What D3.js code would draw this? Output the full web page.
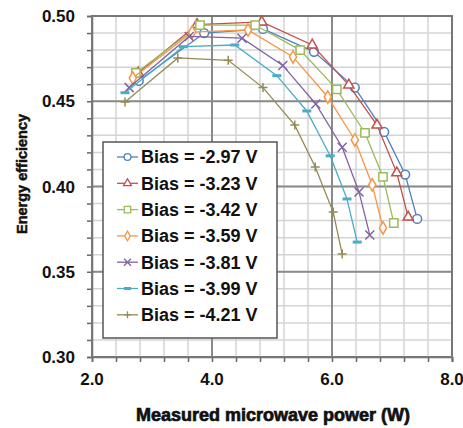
<!DOCTYPE html>
<html>
<head>
<meta charset="utf-8">
<script src="https://cdn.jsdelivr.net/npm/d3@7"></script>
<style>
  body { margin: 0; background: #fff; }
  svg text { font-family: "Liberation Sans", Arial, sans-serif; font-weight: bold; fill: #111; }
</style>
</head>
<body>
<svg id="chart" width="463" height="428"></svg>
<script>
// bias labels and colours
var biasNames = ["Bias = -2.97 V", "Bias = -3.23 V", "Bias = -3.42 V", "Bias = -3.59 V",
                 "Bias = -3.81 V", "Bias = -3.99 V", "Bias = -4.21 V"];
var colors = ["#4f81bd", "#c0504d", "#9bbb59", "#f79646", "#8064a2", "#4bacc6", "#948a54"];
var markers = ["circle", "triangle", "square", "diamond", "x", "dash", "plus"];

// measured microwave power (W) per series
var power_297 = [2.78, 3.87, 4.85, 5.70, 6.38, 6.87, 7.22, 7.42];
var power_323 = [2.77, 3.75, 4.83, 5.67, 6.28, 6.75, 7.08, 7.27];
var power_342 = [2.73, 3.80, 4.72, 5.47, 6.08, 6.55, 6.85, 7.03];
var power_359 = [2.68, 3.67, 4.60, 5.35, 5.93, 6.38, 6.67, 6.85];
var power_381 = [2.62, 3.62, 4.50, 5.18, 5.73, 6.17, 6.45, 6.63];
var power_399 = [2.55, 3.52, 4.38, 5.08, 5.58, 5.97, 6.25, 6.42];
var power_421 = [2.55, 3.43, 4.27, 4.85, 5.38, 5.72, 6.02, 6.17];

// energy efficiency per series
var eff_297 = [0.462, 0.490, 0.4924, 0.479, 0.458, 0.432, 0.407, 0.381];
var eff_323 = [0.4666, 0.495, 0.4965, 0.483, 0.4595, 0.436, 0.408, 0.382];
var eff_342 = [0.4666, 0.4947, 0.4947, 0.480, 0.457, 0.4314, 0.4056, 0.3786];
var eff_359 = [0.4636, 0.4906, 0.4918, 0.476, 0.4525, 0.4273, 0.401, 0.3757];
var eff_381 = [0.458, 0.488, 0.487, 0.471, 0.4484, 0.423, 0.3968, 0.3716];
var eff_399 = [0.455, 0.482, 0.483, 0.465, 0.4443, 0.418, 0.3927, 0.3674];
var eff_421 = [0.4496, 0.4754, 0.474, 0.458, 0.436, 0.4114, 0.385, 0.3604];

var xTickLabels = ["2.0", "4.0", "6.0", "8.0"];
var yTickLabels = ["0.30", "0.35", "0.40", "0.45", "0.50"];

var powers = [power_297, power_323, power_342, power_359, power_381, power_399, power_421];
var effs = [eff_297, eff_323, eff_342, eff_359, eff_381, eff_399, eff_421];

var series = biasNames.map(function(name, i) {
    return {
        name: name, color: colors[i], marker: markers[i],
        values: powers[i].map(function(p, j) { return { x: p, y: effs[i][j] }; })
    };
});

var svg = d3.select("#chart");
var pLeft = 92, pRight = 452, pTop = 16, pBottom = 357;

var x = d3.scaleLinear().domain([2, 8]).range([pLeft, pRight]);
var y = d3.scaleLinear().domain([0.3, 0.5]).range([pBottom, pTop]);

// minor grid
var xMinor = d3.range(0, 16).map(function(i) { return 2 + i * 0.4; });
var yMinor = d3.range(0, 21).map(function(i) { return 0.3 + i * 0.01; });

var grid = svg.append("g");
grid.selectAll(".vx").data(xMinor).enter().append("line")
    .attr("x1", function(d) { return x(d); }).attr("x2", function(d) { return x(d); })
    .attr("y1", pTop).attr("y2", pBottom)
    .attr("stroke", "#d4d4d4").attr("stroke-width", 1.5);
grid.selectAll(".hy").data(yMinor).enter().append("line")
    .attr("y1", function(d) { return y(d); }).attr("y2", function(d) { return y(d); })
    .attr("x1", pLeft).attr("x2", pRight)
    .attr("stroke", "#d4d4d4").attr("stroke-width", 1.5);

// major grid
grid.selectAll(".mx").data([2, 4, 6, 8]).enter().append("line")
    .attr("x1", function(d) { return x(d); }).attr("x2", function(d) { return x(d); })
    .attr("y1", pTop).attr("y2", pBottom)
    .attr("stroke", "#8a8a8a").attr("stroke-width", 2);
grid.selectAll(".my").data([0.3, 0.35, 0.4, 0.45, 0.5]).enter().append("line")
    .attr("y1", function(d) { return y(d); }).attr("y2", function(d) { return y(d); })
    .attr("x1", pLeft).attr("x2", pRight)
    .attr("stroke", "#8a8a8a").attr("stroke-width", 2);

// axes
var yAxis = d3.axisLeft(y).tickValues(yMinor).tickSize(5).tickFormat("");
var xAxis = d3.axisBottom(x).tickValues(xMinor.concat([8])).tickSize(5).tickFormat("");
svg.append("g").attr("transform", "translate(" + pLeft + ",0)").call(yAxis)
    .call(function(g) { g.selectAll("line,path").attr("stroke", "#666").attr("stroke-width", 1.5); });
svg.append("g").attr("transform", "translate(0," + pBottom + ")").call(xAxis)
    .call(function(g) { g.selectAll("line,path").attr("stroke", "#666").attr("stroke-width", 1.5); });

svg.append("rect").attr("x", pLeft).attr("y", pTop)
    .attr("width", pRight - pLeft).attr("height", pBottom - pTop)
    .attr("fill", "none").attr("stroke", "#777").attr("stroke-width", 2);

// tick labels
svg.selectAll(".ylab").data(yTickLabels).enter().append("text")
    .attr("x", 75).attr("y", function(d) { return y(+d); })
    .attr("dy", "0.36em").attr("text-anchor", "end")
    .style("font-size", "17px").text(function(d) { return d; });
svg.selectAll(".xlab").data(xTickLabels).enter().append("text")
    .attr("x", function(d) { return x(+d); }).attr("y", 385)
    .attr("text-anchor", "middle")
    .style("font-size", "17px").text(function(d) { return d; });

// axis titles
svg.append("text").attr("x", 273).attr("y", 421).attr("text-anchor", "middle")
    .style("font-size", "18px").style("stroke", "#111").style("stroke-width", 0.7)
    .text("Measured microwave power (W)");
svg.append("text").attr("transform", "translate(27,174) rotate(-90)")
    .attr("text-anchor", "middle").style("font-size", "14.5px")
    .style("stroke", "#111").style("stroke-width", 0.5).text("Energy efficiency");

// marker path
function markerPath(type, s) {
    if (type === "circle") return d3.symbol().type(d3.symbolCircle).size(s * s * 0.75)();
    if (type === "triangle") return d3.symbol().type(d3.symbolTriangle).size(s * s * 0.55)();
    if (type === "square") return d3.symbol().type(d3.symbolSquare).size(s * s * 0.85)();
    if (type === "diamond") return d3.symbol().type(d3.symbolDiamond).size(s * s * 0.55)();
    var h = s / 2;
    if (type === "x") return "M" + (-h) + "," + (-h) + "L" + h + "," + h + "M" + (-h) + "," + h + "L" + h + "," + (-h);
    if (type === "plus") return "M" + (-h) + ",0L" + h + ",0M0," + (-h) + "L0," + h;
    return "M" + (-h) + ",0L" + h + ",0";
}

var line = d3.line().x(function(d) { return x(d.x); }).y(function(d) { return y(d.y); });

var sg = svg.selectAll(".series").data(series).enter().append("g");
sg.append("path").attr("d", function(d) { return line(d.values); })
    .attr("fill", "none").attr("stroke", function(d) { return d.color; }).attr("stroke-width", 1.3);
sg.each(function(s) {
    d3.select(this).selectAll("path.mk").data(s.values).enter().append("path")
        .attr("class", "mk")
        .attr("transform", function(d) { return "translate(" + x(d.x) + "," + y(d.y) + ")"; })
        .attr("d", markerPath(s.marker, 9))
        .attr("fill", s.marker === "dash" || s.marker === "x" || s.marker === "plus" ? "none" : "#fff")
        .attr("stroke", s.color)
        .attr("stroke-width", s.marker === "dash" ? 3 : 1.5);
});

// legend
var lg = svg.append("g");
lg.append("rect").attr("x", 103).attr("y", 142).attr("width", 174).attr("height", 196)
    .attr("fill", "#fff").attr("stroke", "#555").attr("stroke-width", 1.5);
var items = lg.selectAll(".it").data(series).enter().append("g")
    .attr("transform", function(d, i) { return "translate(0," + (157 + i * 26.3) + ")"; });
items.append("line").attr("x1", 117).attr("x2", 138)
    .attr("stroke", function(d) { return d.color; }).attr("stroke-width", 1.3);
items.append("path").attr("transform", "translate(127.5,0)")
    .attr("d", function(d) { return markerPath(d.marker, 7); })
    .attr("fill", function(d) { return d.marker === "dash" || d.marker === "x" || d.marker === "plus" ? "none" : "#fff"; })
    .attr("stroke", function(d) { return d.color; })
    .attr("stroke-width", function(d) { return d.marker === "dash" ? 3 : 1.3; });
items.append("text").attr("x", 141).attr("dy", "0.36em")
    .style("font-size", "18px").text(function(d) { return d.name; });
</script>
</body>
</html>
